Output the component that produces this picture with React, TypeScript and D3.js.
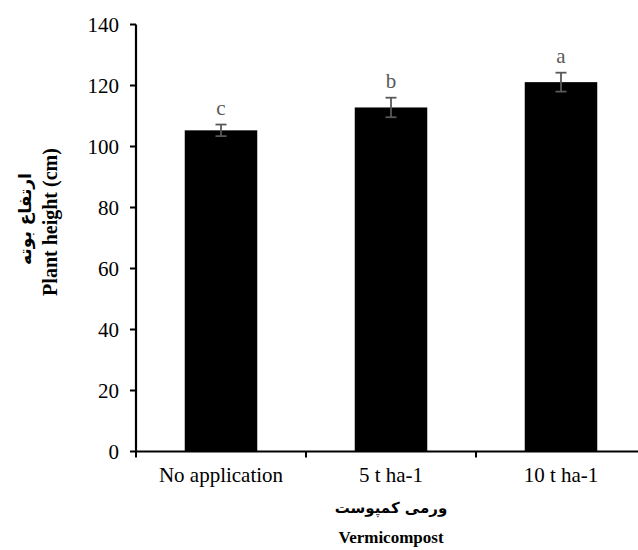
import React from 'react';
import * as d3 from 'd3';

const categories = ['No application', '5 t ha-1', '10 t ha-1'];
const heights = [105.3, 112.8, 121.1];
const errors = [1.9, 3.2, 3.1];
const letters = ['c', 'b', 'a'];
const yTicks = [0, 20, 40, 60, 80, 100, 120, 140];

const W = 638;
const H = 550;
const serif = '"Liberation Serif", "Times New Roman", serif';
const arabic = '"DejaVu Sans", sans-serif';

const App = () => {
  const x = d3.scaleBand().domain(categories).range([136, 646]).paddingInner(0).paddingOuter(0);
  const y = d3.scaleLinear().domain([0, 140]).range([451.5, 24.5]);
  const barW = 72.5;

  return (
    <svg width={W} height={H} style={{ position: 'absolute', left: 0, top: 0, background: '#fff' }}>
      {/* bars */}
      {categories.map((c, i) => {
        const cx = x(c)! + x.bandwidth() / 2;
        return (
          <rect key={c} x={cx - barW / 2} y={y(heights[i])} width={barW} height={y(0) - y(heights[i])} fill="#000" />
        );
      })}

      {/* error bars + letters */}
      {categories.map((c, i) => {
        const cx = x(c)! + x.bandwidth() / 2;
        const top = y(heights[i] + errors[i]);
        const bot = y(heights[i] - errors[i]);
        return (
          <g key={c + '-err'} stroke="#595959" strokeWidth={1.8}>
            <line x1={cx} x2={cx} y1={top} y2={bot} />
            <line x1={cx - 5.5} x2={cx + 5.5} y1={top} y2={top} />
            <line x1={cx - 5.5} x2={cx + 5.5} y1={bot} y2={bot} />
            <text x={cx} y={top - 10} textAnchor="middle" fill="#595959" stroke="none"
              fontFamily={serif} fontSize={21}>{letters[i]}</text>
          </g>
        );
      })}

      {/* y axis */}
      <line x1={136} x2={136} y1={y(140)} y2={y(0)} stroke="#000" strokeWidth={2.2} />
      {yTicks.map(t => (
        <g key={t}>
          <line x1={130} x2={136} y1={y(t)} y2={y(t)} stroke="#000" strokeWidth={2} />
          <text x={119} y={y(t)} dy="0.35em" textAnchor="end" fontFamily={serif} fontSize={21} fill="#000">{t}</text>
        </g>
      ))}

      {/* x axis */}
      <line x1={135} x2={646} y1={y(0)} y2={y(0)} stroke="#000" strokeWidth={2.2} />
      {[0, 1, 2, 3].map(k => {
        const xv = 136 + k * x.bandwidth();
        return <line key={k} x1={xv} x2={xv} y1={y(0)} y2={y(0) + 6} stroke="#000" strokeWidth={2} />;
      })}
      {categories.map(c => (
        <text key={c + '-lbl'} x={x(c)! + x.bandwidth() / 2} y={475} dy="0.35em" textAnchor="middle"
          fontFamily={serif} fontSize={21} fill="#000">{c}</text>
      ))}

      {/* x title */}
      <text x={391} y={508} dy="0.35em" textAnchor="middle" fontFamily={arabic}
        fontWeight="bold" fontSize={15} direction="rtl">ورمی کمپوست</text>
      <text x={391} y={537} dy="0.35em" textAnchor="middle" fontFamily={serif}
        fontWeight="bold" fontSize={17}>Vermicompost</text>

      {/* y title */}
      <g transform="translate(25,219) rotate(-90)">
        <text x={0} y={0} dy="0.35em" textAnchor="middle" fontFamily={arabic}
          fontWeight="bold" fontSize={17} direction="rtl">ارتفاع بوته</text>
      </g>
      <g transform="translate(50,222) rotate(-90)">
        <text x={0} y={0} dy="0.35em" textAnchor="middle" fontFamily={serif}
          fontWeight="bold" fontSize={20}>Plant height (cm)</text>
      </g>
    </svg>
  );
};

export default App;
